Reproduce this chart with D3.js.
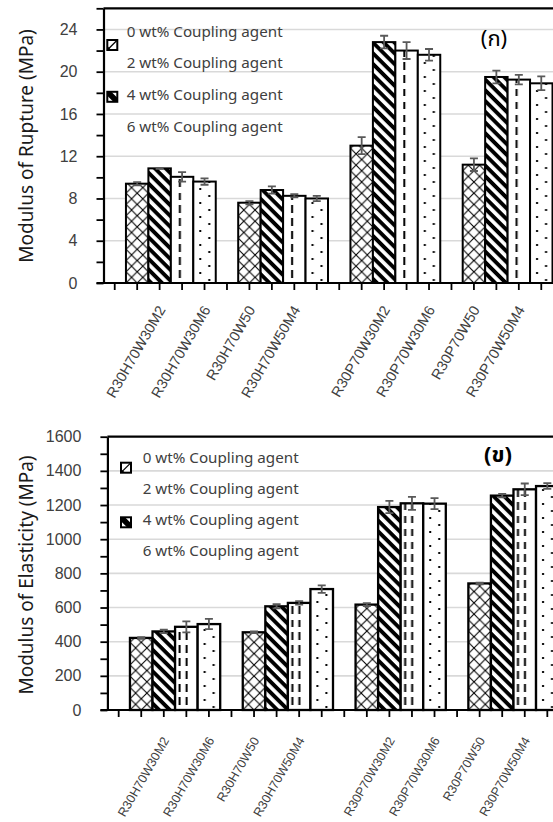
<!DOCTYPE html>
<html>
<head>
<meta charset="utf-8">
<script src="https://cdn.jsdelivr.net/npm/d3@7"></script>
<style>
  body { margin: 0; background: #fff; }
  svg { display: block; font-family: "Noto Sans", "Open Sans", "Noto Sans Thai", sans-serif; }
</style>
</head>
<body>
<svg id="chart" width="553" height="822"></svg>
<script>
// Category slots on the x axis; blank slots separate the four formulation groups
const categories = [
  "", "R30H70W30", "R30H70W30M2", "R30H70W30M4", "R30H70W30M6",
  "", "R30H70W50", "R30H70W50M2", "R30H70W50M4", "R30H70W50M6",
  "", "R30P70W30", "R30P70W30M2", "R30P70W30M4", "R30P70W30M6",
  "", "R30P70W50", "R30P70W50M2", "R30P70W50M4", "R30P70W50M6"
];
const seriesNames = ["0 wt% Coupling agent", "2 wt% Coupling agent", "4 wt% Coupling agent", "6 wt% Coupling agent"];
const groupNames = ["R30H70W30", "R30H70W50", "R30P70W30", "R30P70W50"];

// Modulus of rupture (MPa): one row per series, one value per group
const morMean = [
  [9.4, 7.6, 13.0, 11.2],
  [10.85, 8.8, 22.8, 19.5],
  [10.05, 8.25, 22.0, 19.25],
  [9.6, 8.0, 21.6, 18.9]
];
const morErr = [
  [0.15, 0.15, 0.8, 0.6],
  [0.05, 0.35, 0.6, 0.6],
  [0.45, 0.15, 0.8, 0.45],
  [0.3, 0.25, 0.55, 0.65]
];

// Modulus of elasticity (MPa)
const moeMean = [
  [422, 455, 617, 741],
  [460, 607, 1188, 1255],
  [487, 627, 1210, 1292],
  [503, 708, 1208, 1311]
];
const moeErr = [
  [5, 5, 8, 5],
  [10, 12, 36, 10],
  [32, 10, 38, 34],
  [30, 22, 32, 17]
];

const morTicks = [0, 4, 8, 12, 16, 20, 24];
const moeTicks = [0, 200, 400, 600, 800, 1000, 1200, 1400, 1600];

const svg = d3.select("#chart");
const defs = svg.append("defs");
const W = 553;

function buildRows(mean, err) {
  const rows = [];
  seriesNames.forEach((name, s) => {
    groupNames.forEach((g, gi) => {
      const idx = gi * 5 + 1 + s;
      rows.push({ idx, series: s, name: categories[idx], value: mean[s][gi], err: err[s][gi] });
    });
  });
  return rows;
}

function drawChart(cfg) {
  const x = d3.scaleBand().domain(d3.range(categories.length)).range([cfg.x0, cfg.x1]).padding(0);
  const y = d3.scaleLinear().domain([0, cfg.yMax]).range([cfg.bottom, cfg.top]);
  const step = x.step();
  const id = cfg.id;
  const rows = buildRows(cfg.mean, cfg.err);

  // fill patterns, tiles aligned with the category slots
  const px = defs.append("pattern").attr("id", "xh-" + id).attr("patternUnits", "userSpaceOnUse")
    .attr("x", cfg.x0).attr("y", cfg.bottom).attr("width", step / 2).attr("height", step / 2);
  px.append("rect").attr("width", step / 2).attr("height", step / 2).attr("fill", "#fff");
  px.append("path").attr("d", `M0,0L${step / 2},${step / 2}M${step / 2},0L0,${step / 2}`)
    .attr("stroke", "#000").attr("stroke-width", 1.1);

  const ps = defs.append("pattern").attr("id", "st-" + id).attr("patternUnits", "userSpaceOnUse")
    .attr("width", 7.6).attr("height", 7.6).attr("patternTransform", "rotate(45)");
  ps.append("rect").attr("width", 7.6).attr("height", 7.6).attr("fill", "#fff");
  ps.append("rect").attr("width", 7.6).attr("height", 3.9).attr("fill", "#000");

  const pd = defs.append("pattern").attr("id", "da-" + id).attr("patternUnits", "userSpaceOnUse")
    .attr("x", cfg.x0).attr("y", cfg.bottom).attr("width", step).attr("height", 13);
  pd.append("rect").attr("width", step).attr("height", 13).attr("fill", "#fff");
  cfg.dashCols.forEach(c => pd.append("rect").attr("x", c).attr("y", 0).attr("width", 2).attr("height", 8).attr("fill", "#000"));

  const pt = defs.append("pattern").attr("id", "dt-" + id).attr("patternUnits", "userSpaceOnUse")
    .attr("x", cfg.x0).attr("y", cfg.bottom).attr("width", step).attr("height", 14);
  pt.append("rect").attr("width", step).attr("height", 14).attr("fill", "#fff");
  pt.append("rect").attr("x", 6).attr("y", 3).attr("width", 2).attr("height", 2).attr("fill", "#000");
  pt.append("rect").attr("x", 15).attr("y", 10).attr("width", 2).attr("height", 2).attr("fill", "#000");

  const fills = ["xh-", "st-", "da-", "dt-"].map(p => `url(#${p}${id})`);

  const g = svg.append("g");

  // horizontal gridlines at the labelled values
  g.append("g").selectAll("line")
    .data(cfg.ticks.filter(t => t > 0 && t < cfg.yMax))
    .join("line")
    .attr("x1", cfg.x0).attr("x2", W)
    .attr("y1", d => y(d)).attr("y2", d => y(d))
    .attr("stroke", "#d9d9d9").attr("stroke-width", 1.6);

  // bars
  g.append("g").selectAll("rect")
    .data(rows)
    .join("rect")
    .attr("x", d => x(d.idx))
    .attr("width", x.bandwidth())
    .attr("y", d => y(d.value))
    .attr("height", d => y(0) - y(d.value))
    .attr("fill", d => fills[d.series])
    .attr("stroke", "#000").attr("stroke-width", cfg.barStroke);

  // error bars
  const eb = g.append("g").attr("stroke", "#595959").attr("stroke-width", 1.8).attr("fill", "none");
  eb.selectAll("path")
    .data(rows)
    .join("path")
    .attr("d", d => {
      const cx = x(d.idx) + x.bandwidth() / 2;
      const y1 = y(d.value - d.err), y2 = y(d.value + d.err);
      return `M${cx - 4},${y1}H${cx + 4}M${cx},${y1}V${y2}M${cx - 4},${y2}H${cx + 4}`;
    });

  // y axis
  const minor = d3.range(0, cfg.yMax + cfg.minorStep / 2, cfg.minorStep);
  const yAxis = g.append("g").attr("transform", `translate(${cfg.x0},0)`)
    .call(d3.axisLeft(y).tickValues(minor).tickSize(7).tickSizeOuter(0).tickPadding(19)
      .tickFormat(d => cfg.ticks.includes(d) ? d : ""));
  yAxis.select(".domain").attr("stroke-width", 2.2);
  yAxis.selectAll(".tick line").attr("stroke-width", 1.8);
  yAxis.selectAll("text").attr("font-size", 16).attr("fill", "#404040");

  // top frame
  g.append("line").attr("x1", cfg.x0).attr("x2", W).attr("y1", cfg.top).attr("y2", cfg.top)
    .attr("stroke", "#000").attr("stroke-width", 2.2);

  // x axis
  const xAxis = g.append("g").attr("transform", `translate(0,${cfg.bottom})`)
    .call(d3.axisBottom(x).tickSize(7).tickSizeOuter(0)
      .tickFormat(i => i % 2 === 0 ? categories[i] : ""));
  xAxis.select(".domain").attr("d", `M${cfg.x0 - 7},0H${W}`).attr("stroke-width", 2.2);
  xAxis.selectAll(".tick line").attr("stroke-width", 1.8);
  xAxis.selectAll("text")
    .attr("y", 0).attr("dy", "0.35em")
    .attr("transform", `translate(2,${cfg.labelDrop}) rotate(-60)`)
    .attr("text-anchor", "end")
    .attr("font-size", cfg.labelSize)
    .attr("fill", "#404040");

  // axis title
  g.append("text")
    .attr("transform", `translate(${cfg.titleX},${cfg.titleY}) rotate(-90)`)
    .attr("text-anchor", "middle")
    .attr("font-size", 19)
    .attr("fill", "#1a1a1a")
    .text(cfg.title);

  // legend
  const lg = g.append("g");
  seriesNames.forEach((name, i) => {
    lg.append("text")
      .attr("x", cfg.legendX).attr("y", cfg.legendY + i * cfg.legendStep)
      .attr("font-size", 15.2).attr("fill", "#404040")
      .text(name);
  });
  cfg.swatches.forEach(sw => {
    const sx = cfg.swatchX, sy = cfg.legendY + sw.entry * cfg.legendStep + sw.dy;
    lg.append("rect").attr("x", sx).attr("y", sy).attr("width", 10).attr("height", 10)
      .attr("fill", "#fff").attr("stroke", "#000").attr("stroke-width", 2);
    if (sw.kind === "slash") {
      lg.append("path").attr("d", `M${sx},${sy + 10}L${sx + 10},${sy}`).attr("stroke", "#000").attr("stroke-width", 1.2);
      lg.append("path").attr("d", `M${sx},${sy + 10}L${sx},${sy + 6}L${sx + 4},${sy + 10}Z`).attr("fill", "#000");
    } else {
      lg.append("path").attr("d", `M${sx},${sy}L${sx + 4},${sy}L${sx + 10},${sy + 6}L${sx + 10},${sy + 10}L${sx + 6},${sy + 10}L${sx},${sy + 4}Z`).attr("fill", "#000");
    }
  });

  // panel tag
  g.append("text")
    .attr("x", cfg.tagX).attr("y", cfg.tagY)
    .attr("text-anchor", "middle")
    .attr("font-size", 22)
    .attr("font-weight", cfg.tagWeight)
    .attr("fill", "#000")
    .text(cfg.tag);
}

drawChart({
  id: "mor", x0: 103.5, x1: 552.5, top: 8.3, bottom: 283, yMax: 26, minorStep: 2,
  ticks: morTicks, mean: morMean, err: morErr,
  dashCols: [8], barStroke: 2,
  labelDrop: 24, labelSize: 14.5,
  title: "Modulus of Rupture (MPa)", titleX: 33, titleY: 146,
  legendX: 126.7, legendY: 36.7, legendStep: 31.7, swatchX: 107.3,
  swatches: [{ entry: 0, dy: 3.3, kind: "slash" }, { entry: 2, dy: -8.3, kind: "back" }],
  tag: "(ก)", tagX: 494, tagY: 46, tagWeight: "normal"
});

drawChart({
  id: "moe", x0: 107.4, x1: 558.6, top: 436.7, bottom: 710, yMax: 1600, minorStep: 100,
  ticks: moeTicks, mean: moeMean, err: moeErr,
  dashCols: [3.5, 10.5], barStroke: 2.3,
  labelDrop: 28, labelSize: 12.6,
  title: "Modulus of Elasticity (MPa)", titleX: 33, titleY: 575,
  legendX: 142.7, legendY: 463.3, legendStep: 31, swatchX: 121,
  swatches: [{ entry: 0, dy: -0.6, kind: "slash" }, { entry: 2, dy: -8, kind: "back" }],
  tag: "(ข)", tagX: 498, tagY: 462, tagWeight: "bold"
});
</script>
</body>
</html>
